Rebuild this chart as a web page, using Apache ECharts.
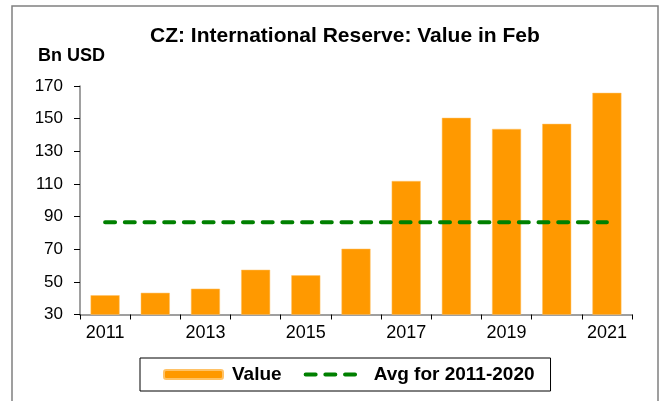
<!DOCTYPE html>
<html>
<head>
<meta charset="utf-8">
<script src="https://cdn.jsdelivr.net/npm/echarts@6/dist/echarts.min.js"></script>
<style>
  html, body { margin: 0; padding: 0; background: #fff; }
  #chart { width: 665px; height: 401px; }
</style>
</head>
<body>
<div id="chart"></div>
<script>
const years = ['2011', '2012', '2013', '2014', '2015', '2016', '2017', '2018', '2019', '2020', '2021'];
const reserveValues = [41.8, 43.3, 45.8, 57.4, 54.0, 70.3, 111.8, 150.5, 143.7, 146.8, 165.8];
const avgValues = [86.5, 86.5, 86.5, 86.5, 86.5, 86.5, 86.5, 86.5, 86.5, 86.5, 86.5];
const yTicks = { min: 30, max: 170, interval: 20 };

const font = '"Liberation Sans", Arial, sans-serif';
const avgLine = { color: '#008000', width: 4, type: [10, 9.7], cap: 'round' };
const chart = echarts.init(document.getElementById('chart'));

chart.setOption({
  animation: false,
  textStyle: { fontFamily: font },
  title: [
    {
      text: 'CZ: International Reserve: Value in Feb',
      left: 145,
      top: 21,
      textStyle: { fontSize: 21, fontWeight: 'bold', color: '#000', fontFamily: font }
    },
    {
      text: 'Bn USD',
      left: 33,
      top: 42,
      textStyle: { fontSize: 18, fontWeight: 'bold', color: '#000', fontFamily: font }
    }
  ],
  graphic: [
    {
      type: 'rect',
      shape: { x: 12, y: 6, width: 646, height: 420 },
      style: { fill: 'none', stroke: '#808080', lineWidth: 1.5 },
      silent: true
    }
  ],
  legend: {
    left: 140,
    top: 358,
    padding: [7, 16, 7, 23],
    borderColor: '#000',
    borderWidth: 1,
    itemWidth: 59,
    itemHeight: 9,
    itemGap: 22,
    textStyle: { fontSize: 19, fontWeight: 'bold', color: '#000', fontFamily: font, padding: [0, 0, 0, 4] },
    data: [
      { name: 'Value' },
      { name: 'Avg for 2011-2020', itemStyle: { opacity: 0 }, lineStyle: avgLine }
    ]
  },
  grid: { left: 80, right: 33, top: 86, bottom: 86.5 },
  xAxis: {
    type: 'category',
    data: years,
    boundaryGap: true,
    axisLine: { lineStyle: { color: '#808080', width: 1.5 } },
    axisTick: { show: true, length: 5, interval: 0, lineStyle: { color: '#000' } },
    axisLabel: { interval: 1, fontSize: 18, color: '#000', margin: 10, fontFamily: font }
  },
  yAxis: {
    type: 'value',
    min: yTicks.min,
    max: yTicks.max,
    interval: yTicks.interval,
    splitLine: { show: false },
    axisLine: { show: true, lineStyle: { color: '#808080', width: 1.5 } },
    axisTick: { show: true, length: 6, lineStyle: { color: '#000' } },
    axisLabel: { fontSize: 17, color: '#000', margin: 17, fontFamily: font }
  },
  series: [
    {
      name: 'Value',
      type: 'bar',
      data: reserveValues,
      barWidth: 29,
      itemStyle: { color: '#FF9900', borderColor: '#FFC266', borderWidth: 0.5 }
    },
    {
      name: 'Avg for 2011-2020',
      type: 'line',
      data: avgValues,
      symbol: 'none',
      itemStyle: { color: '#008000' },
      lineStyle: avgLine,
      z: 3
    }
  ]
});
</script>
</body>
</html>
